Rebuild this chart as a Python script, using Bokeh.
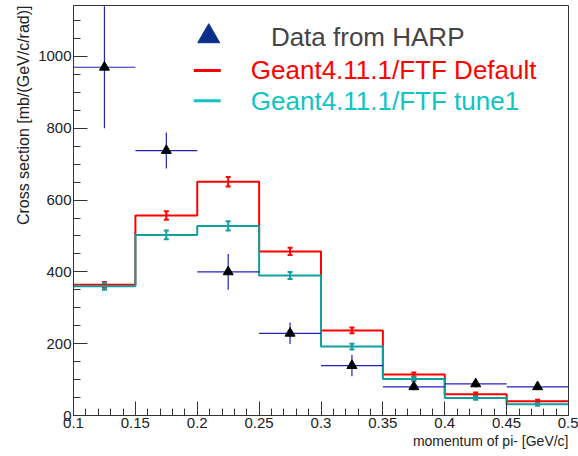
from bokeh.plotting import figure
from bokeh.models import (ColumnDataSource, Whisker, TeeHead, SingleIntervalTicker,
                          CustomJSTickFormatter, Range1d, Title)
from bokeh.core.properties import value
from bokeh.embed import file_html
from bokeh.resources import INLINE

# ---- data ----
bin_edges = [0.10, 0.15, 0.20, 0.25, 0.30, 0.35, 0.40, 0.45, 0.50]
bin_centers = [0.125, 0.175, 0.225, 0.275, 0.325, 0.375, 0.425, 0.475]
harp_values = [970, 738, 400, 229, 139, 80, 88, 80]
harp_errors = [170, 50, 50, 30, 30, 10, 10, 10]
ftf_default = [364, 557, 651, 457, 237, 114, 59, 40]
ftf_default_err = [8, 12, 13, 10, 8, 6, 5, 4]
ftf_tune1 = [360, 503, 528, 390, 192, 102, 49, 31]
ftf_tune1_err = [10, 12, 13, 10, 8, 6, 5, 4]
bin_half_width = 0.025

legend_labels = ["Data from HARP", "Geant4.11.1/FTF Default", "Geant4.11.1/FTF tune1"]
x_title = "momentum of pi- [GeV/c]"
y_title = "Cross section [mb/(GeV/c/rad)]"

RED = "#ff0000"
TEAL = "#129e9e"
TEAL_TXT = "#10c4c4"
BLUE = "#2222bb"
FONT = "Liberation Sans"

p = figure(width=578, height=456, output_backend="svg", toolbar_location=None,
           x_range=Range1d(0.1, 0.5), y_range=Range1d(0, 1142),
           min_border_left=73, min_border_right=10, min_border_top=5, min_border_bottom=41)
p.background_fill_color = "white"
p.border_fill_color = "white"
p.outline_line_color = "#333333"
p.outline_line_width = 1
p.xgrid.visible = False
p.ygrid.visible = False

# ---- histograms ----
def step_data(vals):
    return list(bin_edges), list(vals) + [vals[-1]]

xs, ys = step_data(ftf_default)
p.step(xs, ys, mode="after", line_color=RED, line_width=2)
src_d = ColumnDataSource(dict(x=bin_centers,
                              lo=[v - e for v, e in zip(ftf_default, ftf_default_err)],
                              hi=[v + e for v, e in zip(ftf_default, ftf_default_err)]))
p.add_layout(Whisker(source=src_d, base="x", lower="lo", upper="hi", line_color=RED, line_width=2,
                     upper_head=TeeHead(size=5, line_color=RED, line_width=2),
                     lower_head=TeeHead(size=5, line_color=RED, line_width=2)))

xs, ys = step_data(ftf_tune1)
p.step(xs, ys, mode="after", line_color=TEAL, line_width=2)
src_t = ColumnDataSource(dict(x=bin_centers,
                              lo=[v - e for v, e in zip(ftf_tune1, ftf_tune1_err)],
                              hi=[v + e for v, e in zip(ftf_tune1, ftf_tune1_err)]))
p.add_layout(Whisker(source=src_t, base="x", lower="lo", upper="hi", line_color=TEAL, line_width=2,
                     upper_head=TeeHead(size=5, line_color=TEAL, line_width=2),
                     lower_head=TeeHead(size=5, line_color=TEAL, line_width=2)))

# ---- HARP data ----
src_h = ColumnDataSource(dict(x=bin_centers, y=harp_values,
                              x0=[c - bin_half_width for c in bin_centers],
                              x1=[c + bin_half_width for c in bin_centers],
                              y0=[v - e for v, e in zip(harp_values, harp_errors)],
                              y1=[v + e for v, e in zip(harp_values, harp_errors)]))
p.segment(x0="x0", x1="x1", y0="y", y1="y", source=src_h, line_color=BLUE, line_width=1.2)
p.segment(x0="x", x1="x", y0="y0", y1="y1", source=src_h, line_color=BLUE, line_width=1.2)
p.scatter(x="x", y="y", source=src_h, marker="triangle", size=10, fill_color="black",
          line_color="black")

# ---- legend (manual) ----
p.scatter([0.2093], [1056], marker="triangle", size=22, fill_color="#0a2f8a", line_color="#0a2f8a")
p.text([0.2595], [1053], text=[legend_labels[0]], text_font=value(FONT), text_font_size="26px",
       text_color="#444444", text_baseline="middle")
p.segment([0.1972], [961], [0.2190], [961], line_color=RED, line_width=3)
p.text([0.2433], [961], text=[legend_labels[1]], text_font=value(FONT), text_font_size="26px",
       text_color=RED, text_baseline="middle")
p.segment([0.1972], [877], [0.2190], [877], line_color=TEAL_TXT, line_width=3)
p.text([0.2433], [877], text=[legend_labels[2]], text_font=value(FONT), text_font_size="26px",
       text_color=TEAL_TXT, text_baseline="middle")

# ---- axes ----
p.xaxis.ticker = SingleIntervalTicker(interval=0.05, num_minor_ticks=5)
p.yaxis.ticker = SingleIntervalTicker(interval=200, num_minor_ticks=4)
p.xaxis.formatter = CustomJSTickFormatter(
    code="return tick.toFixed(2).replace(/0+$/, '').replace(/\\.$/, '');")
for ax in (p.xaxis, p.yaxis):
    ax.major_tick_in = 14
    ax.major_tick_out = 0
    ax.minor_tick_in = 7
    ax.minor_tick_out = 0
    ax.axis_line_color = "#333333"
    ax.major_tick_line_color = "#333333"
    ax.minor_tick_line_color = "#333333"
    ax.major_label_text_font = FONT
    ax.major_label_text_font_size = "15px"
    ax.major_label_text_color = "#222222"
p.xaxis.major_label_standoff = 2
p.yaxis.major_label_standoff = 2

# axis titles, aligned to the axis ends as in ROOT
p.add_layout(Title(text=x_title, align="right", text_font=FONT, text_font_size="14px",
                   text_font_style="normal", text_color="#222222", standoff=0, offset=0),
             "below")
p.add_layout(Title(text=y_title, align="right", text_font=FONT, text_font_size="16px",
                   text_font_style="normal", text_color="#222222", standoff=8, offset=0),
             "left")

open("out.html", "w").write(file_html(p, INLINE))
